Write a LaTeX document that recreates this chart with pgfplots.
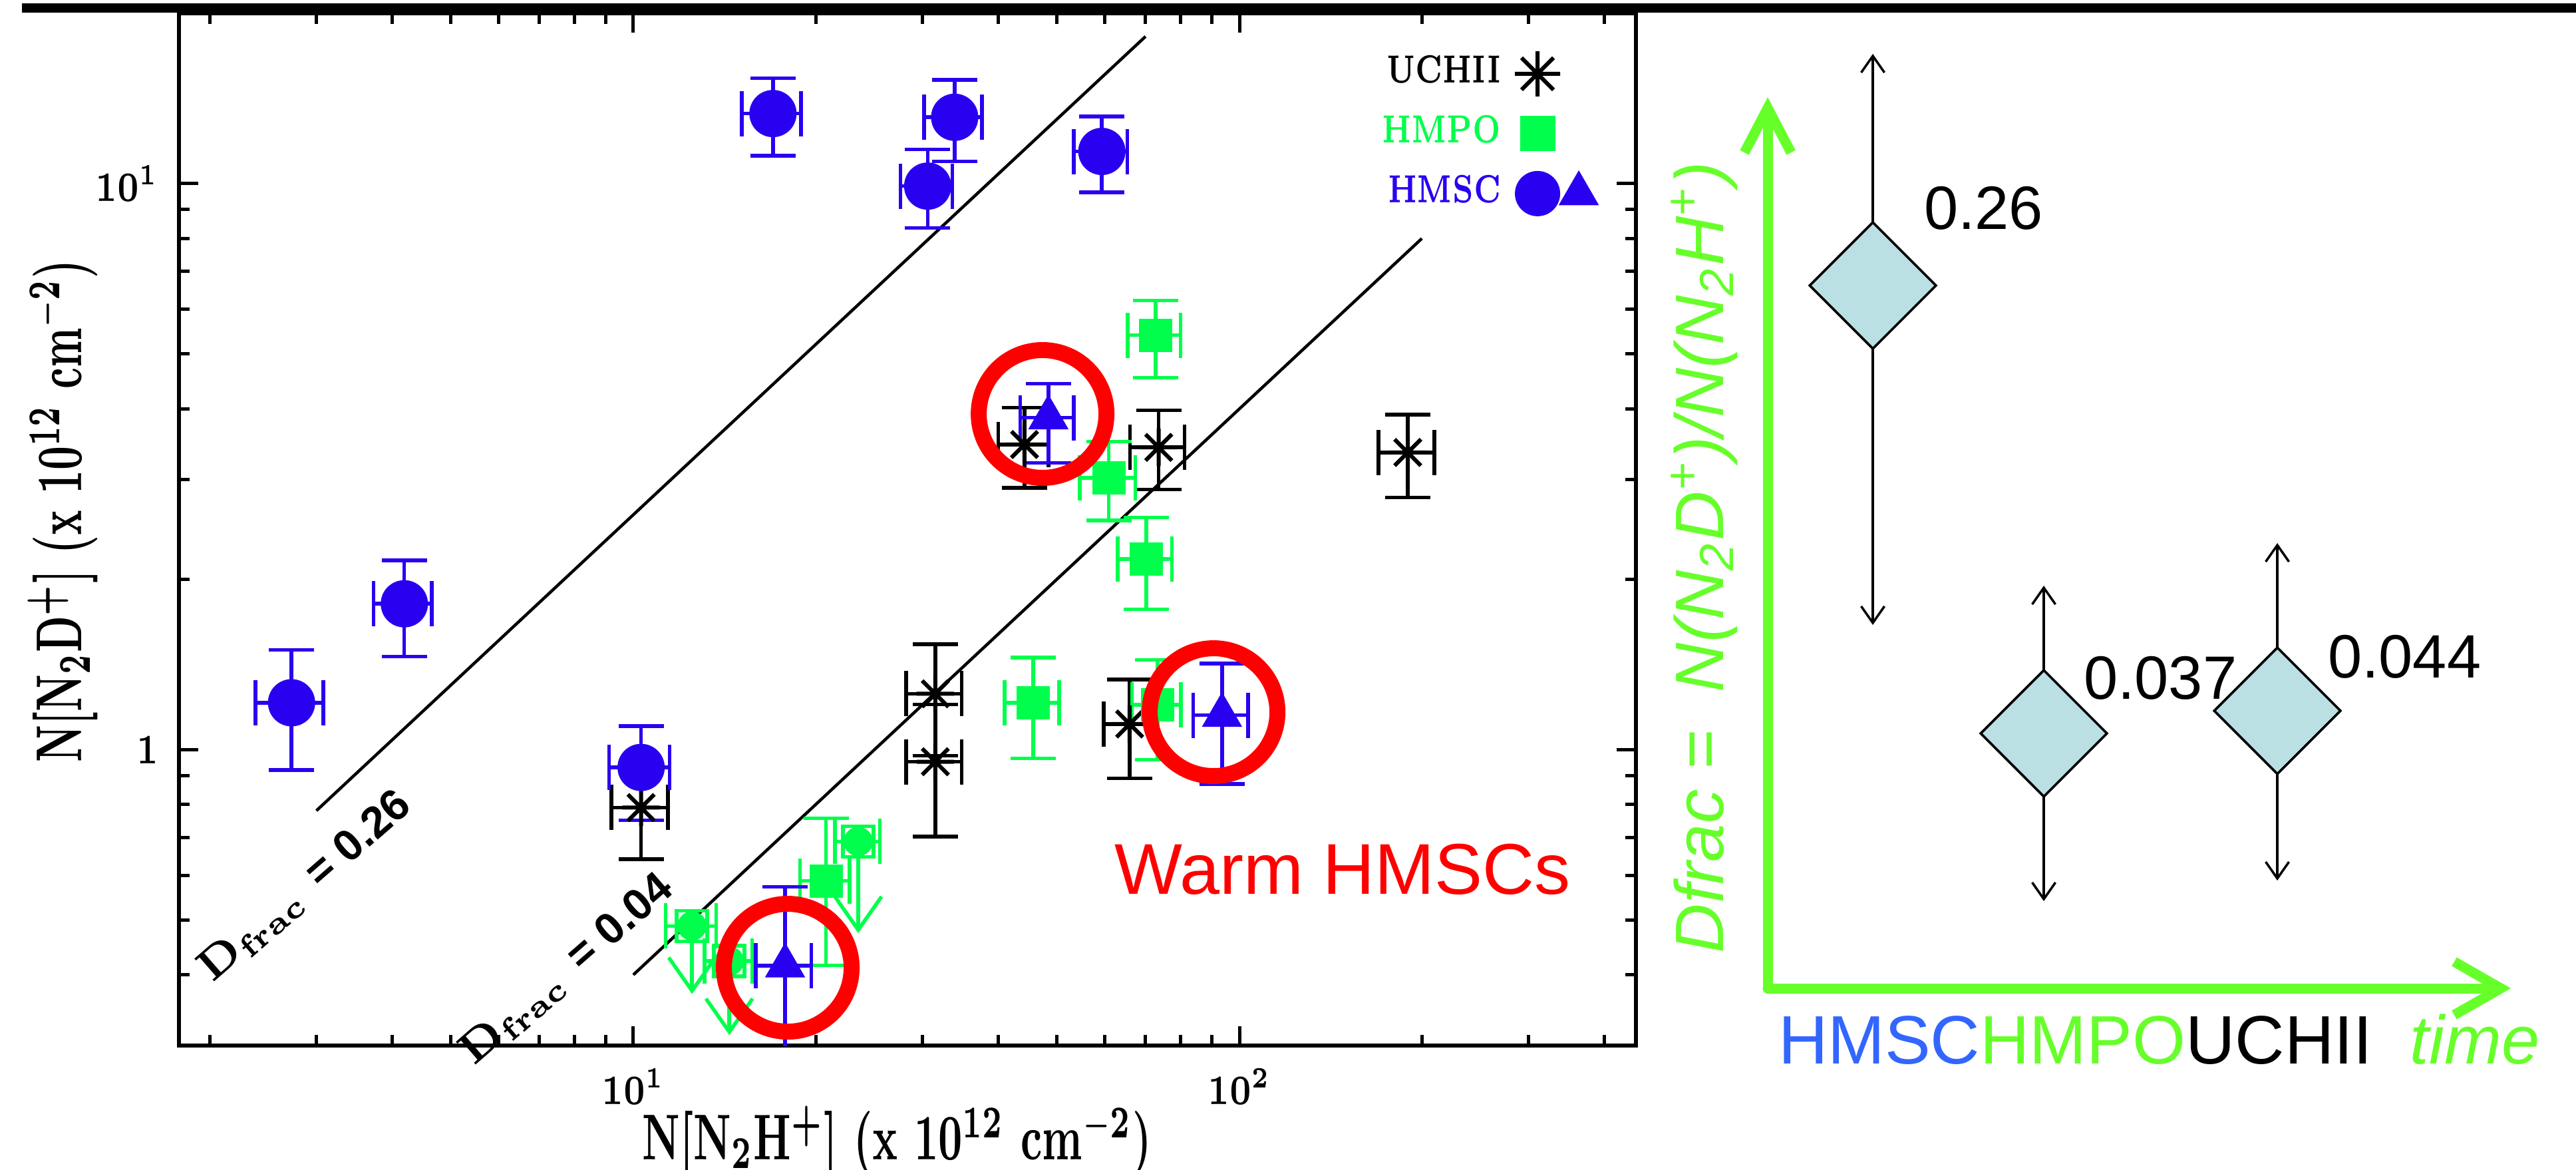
\documentclass[border=0pt]{standalone}
\usepackage{fontspec}
\usepackage{graphicx}
\usepackage{pgfplots}
\pgfplotsset{compat=1.18}
\usetikzlibrary{arrows.meta}
\newfontfamily\arial{Liberation Sans}
\definecolor{pgblue}{RGB}{42,0,240}
\definecolor{pggreen}{RGB}{0,255,76}
\definecolor{hmscblue}{RGB}{51,102,255}
\definecolor{lime}{RGB}{102,255,42}
\definecolor{dfill}{RGB}{187,224,227}

\pgfdeclareplotmark{star8}{%
  \pgfpathmoveto{\pgfqpoint{0pt}{\pgfplotmarksize}}\pgfpathlineto{\pgfqpoint{0pt}{-\pgfplotmarksize}}%
  \pgfpathmoveto{\pgfqpoint{\pgfplotmarksize}{0pt}}\pgfpathlineto{\pgfqpoint{-\pgfplotmarksize}{0pt}}%
  \pgfpathmoveto{\pgfqpoint{.7071\pgfplotmarksize}{.7071\pgfplotmarksize}}\pgfpathlineto{\pgfqpoint{-.7071\pgfplotmarksize}{-.7071\pgfplotmarksize}}%
  \pgfpathmoveto{\pgfqpoint{.7071\pgfplotmarksize}{-.7071\pgfplotmarksize}}\pgfpathlineto{\pgfqpoint{-.7071\pgfplotmarksize}{.7071\pgfplotmarksize}}%
  \pgfusepathqstroke}

\pgfplotsset{
  errb/.style={error bars/.cd, x dir=both, x explicit, y dir=both, y explicit,
     error bar style={line width=0.55pt, #1},
     error mark options={rotate=90, line width=0.55pt, mark size=3.4pt, #1}},
}
\newcommand{\tl}[1]{\scalebox{0.75}[1]{#1}}

\begin{document}
\begin{tikzpicture}
\useasboundingbox (0pt,0pt) rectangle (387.2pt,-175.8pt);

% ---------------- left panel ----------------
\begin{axis}[
  at={(26.9pt,-157.1pt)}, anchor=south west,
  scale only axis, width=219pt, height=155.1pt,
  xmode=log, ymode=log,
  xmin=1.78, xmax=451, ymin=0.3, ymax=20,
  axis line style={line width=0.6pt},
  xtick={10,100}, xticklabels={\tl{10\textsuperscript{1}},\tl{10\textsuperscript{2}}},
  ytick={1,10}, yticklabels={\tl{1},\tl{10\textsuperscript{1}}},
  minor xtick={2,3,4,5,6,7,8,9,20,30,40,50,60,70,80,90,200,300,400},
  minor ytick={0.4,0.5,0.6,0.7,0.8,0.9,2,3,4,5,6,7,8,9},
  tick align=inside,
  major tick length=2.9pt, minor tick length=1.6pt,
  every tick/.style={line width=0.5pt, black},
  xticklabel style={font=\bfseries\fontsize{6.3}{7}\selectfont, anchor=north, inner sep=0pt, yshift=-3.2pt},
  yticklabel style={font=\bfseries\fontsize{6.3}{7}\selectfont, anchor=east, inner sep=0pt, xshift=-2.9pt},
  xlabel={\resizebox{76.5pt}{8pt}{N[N\textsubscript{2}H\textsuperscript{+}] (x 10\textsuperscript{12} cm\textsuperscript{$-$2})}},
  ylabel={\resizebox{75.5pt}{8pt}{N[N\textsubscript{2}D\textsuperscript{+}] (x 10\textsuperscript{12} cm\textsuperscript{$-$2})}},
  xlabel style={font=\bfseries\fontsize{8.5}{10}\selectfont, at={(axis description cs:0.4927,-0.1103)}, anchor=base, inner sep=0pt},
  ylabel style={font=\bfseries\fontsize{8.5}{10}\selectfont, at={(axis description cs:-0.0671,0.5177)}, anchor=base, inner sep=0pt},
  legend plot pos=right, legend cell align=right,
  legend style={draw=none, fill=none, inner sep=0pt, outer sep=0pt,
    at={(0.9763,0.9633)}, anchor=north east, row sep=2.2pt, column sep=2.1pt,
    nodes={inner sep=0pt, xscale=0.7, font=\bfseries\fontsize{5.9}{7}\selectfont}},
]
\addlegendimage{legend image code/.code={%
  \path[draw=black, line width=0.6pt] plot[mark=star8, mark size=3.4pt] coordinates {(0pt,0pt)};
  \path[draw=none, fill=none] (-3.4pt,-3.4pt) rectangle (9.6pt,3.4pt);}}
\addlegendimage{legend image code/.code={%
  \path[draw=pggreen, fill=pggreen] plot[mark=square*, mark size=2.45pt] coordinates {(0pt,0pt)};
  \path[draw=none, fill=none] (-3.4pt,-3.4pt) rectangle (9.6pt,3.4pt);}}
\addlegendimage{legend image code/.code={%
  \path[draw=pgblue, fill=pgblue] plot[mark=*, mark size=3.2pt] coordinates {(0pt,0pt)};
  \path[draw=pgblue, fill=pgblue] plot[mark=triangle*, mark size=3.1pt] coordinates {(6.2pt,0pt)};
  \path[draw=none, fill=none] (-3.4pt,-3.4pt) rectangle (9.6pt,3.4pt);}}
\legend{UCHII, \textcolor{pggreen}{HMPO}, \textcolor{pgblue}{HMSC}}

% D_frac lines
\addplot[black, line width=0.45pt, forget plot] coordinates {(3,0.78) (70,18.2)};
\addplot[black, line width=0.45pt, forget plot] coordinates {(10,0.4) (200,8)};

% UCHII
\addplot[forget plot, only marks, black, mark=star8, mark size=2.8pt, mark options={line width=0.6pt}, errb={black}]
 table[x=x, y=y, x error=ex, y error plus=ep, y error minus=em] {
x y ex ep em
10.3 0.79 1.1 0.15 0.15
31.5 1.255 3.3 0.28 0.28
31.5 0.952 3.3 0.25 0.25
44.2 3.46 4.2 0.56 0.56
73.6 3.42 7.6 0.56 0.54
65.9 1.11 6.2 0.22 0.22
189.6 3.35 20 0.56 0.56
};
% HMPO filled
\addplot[forget plot, only marks, pggreen, mark=square*, mark size=2.3pt, errb={pggreen}]
 table[x=x, y=y, x error=ex, y error plus=ep, y error minus=em] {
x y ex ep em
72.7 5.40 7.3 0.82 0.86
60.9 3.02 6.4 0.48 0.48
70.2 2.17 7.2 0.4 0.4
45.7 1.21 4.7 0.245 0.245
73.3 1.20 6.8 0.24 0.24
20.8 0.586 1.95 0.17 0.17
};
% HMPO upper limits (open squares)
\addplot[forget plot, only marks, pggreen, mark=square, mark size=2.3pt, mark options={line width=0.55pt},
  error bars/.cd, x dir=both, x explicit, error bar style={line width=0.55pt},
  error mark options={rotate=90, line width=0.55pt, mark size=3.4pt}]
 table[x=x, y=y, x error=ex] {
x y ex
23.5 0.688 2.0
12.5 0.488 1.2
14.4 0.423 1.3
};
\addplot[forget plot, only marks, pggreen, mark=none,
  error bars/.cd, y dir=minus, y explicit, error mark=none,
  error bar style={line width=0.55pt, -{Straight Barb[length=5pt,width=7pt]}}]
 table[x=x, y=y, y error minus=em] {
x y em
23.5 0.688 0.214
12.5 0.488 0.118
14.4 0.423 0.11
};
% HMSC circles
\addplot[forget plot, only marks, pgblue, mark=*, mark size=3.35pt, errb={pgblue}]
 table[x=x, y=y, x error=ex, y error plus=ep, y error minus=em] {
x y ex ep em
2.73 1.21 0.35 0.29 0.29
4.19 1.81 0.46 0.35 0.35
10.3 0.93 1.18 0.17 0.18
17.0 13.3 1.9 2.05 2.1
30.6 9.9 3.0 1.6 1.55
33.9 13.1 3.7 2.15 2.15
59.3 11.4 6.0 1.75 1.75
};
% HMSC triangles (warm)
\addplot[forget plot, only marks, pgblue, mark=triangle*, mark size=3.1pt, errb={pgblue}]
 table[x=x, y=y, x error=ex, y error plus=ep, y error minus=em] {
x y ex ep em
48.4 3.86 4.9 0.57 0.65
93.6 1.15 9.7 0.27 0.28
17.8 0.415 1.87 0.157 0.157
};
\end{axis}

% ---------------- right panel ----------------
\begin{axis}[
  at={(265.7pt,-148.5pt)}, anchor=south west,
  scale only axis, width=111.7pt, height=133.9pt,
  xmin=2657, xmax=3774, ymin=273, ymax=1612,
  axis lines=left,
  axis line style={lime, line width=1.5pt, line cap=round},
  x axis line style={-{Straight Barb[length=7pt,width=8pt]}},
  y axis line style={-{Straight Barb[length=6.7pt,width=7pt]}},
  xtick=\empty, ytick=\empty, clip=false,
  xlabel={\textcolor{hmscblue}{HMSC}\textcolor{lime}{HMPO}\textcolor{black}{UCHII}\ \ \textcolor{lime}{\itshape time}},
  xlabel style={font=\arial\fontsize{10.3}{12}\selectfont, at={(axis description cs:0.0125,-0.0851)}, anchor=base west, inner sep=0pt},
  ylabel={Dfrac =\ \ N(N\textsubscript{2}D\textsuperscript{+})/N(N\textsubscript{2}H\textsuperscript{+})},
  ylabel style={lime, font=\arial\itshape\fontsize{10.3}{12}\selectfont, at={(axis description cs:-0.06,0.4832)}, anchor=base, inner sep=0pt},
]
\addplot[only marks, mark=square*, mark size=6.7pt, mark options={rotate=45, fill=dfill, draw=black, line width=0.35pt},
  error bars/.cd, y dir=both, y explicit, error mark=none,
  error bar style={black, line width=0.35pt, {Straight Barb[length=2.5pt,width=3.5pt]}-{Straight Barb[length=2.5pt,width=3.5pt]}}]
  table[x=x, y=y, y error plus=ep, y error minus=em] {
x y ep em
2815 1329 348 510
3072 656 222 252
3423 690 252 255
};
\addplot[only marks, mark=square*, mark size=6.7pt, mark options={rotate=45, fill=dfill, draw=black, line width=0.35pt}]
  table[x=x, y=y] {
x y
2815 1329
3072 656
3423 690
};
\node[anchor=base west, inner sep=0pt, font=\arial\fontsize{9.2}{11}\selectfont] at (axis cs:2890,1413) {0.26};
\node[anchor=base west, inner sep=0pt, font=\arial\fontsize{9.2}{11}\selectfont] at (axis cs:3130,708) {0.037};
\node[anchor=base west, inner sep=0pt, font=\arial\fontsize{9.2}{11}\selectfont] at (axis cs:3497,740) {0.044};
\end{axis}

% ---------------- annotations ----------------
\begin{scope}[x=0.1pt,y=-0.1pt]
\draw[line width=1.4pt] (33,12) -- (3872,12);
\draw[red, line width=2.4pt] (1567,622) circle[radius=9.6pt];
\draw[red, line width=2.4pt] (1824,1070) circle[radius=9.6pt];
\draw[red, line width=2.4pt] (1184,1454) circle[radius=9.6pt];
\node[anchor=base west, inner sep=0pt, red, font=\arial\fontsize{10.8}{12}\selectfont] at (1673,1343) {Warm HMSCs};
\node[rotate=41, inner sep=0pt, font=\fontsize{6.6}{8}\selectfont] at (459,1333)
  {\bfseries D\textsubscript{frac} {\arial\bfseries = 0.26}};
\node[rotate=41, inner sep=0pt, font=\fontsize{6.6}{8}\selectfont] at (852,1458)
  {\bfseries D\textsubscript{frac} {\arial\bfseries = 0.04}};
\end{scope}
\end{tikzpicture}
\end{document}
